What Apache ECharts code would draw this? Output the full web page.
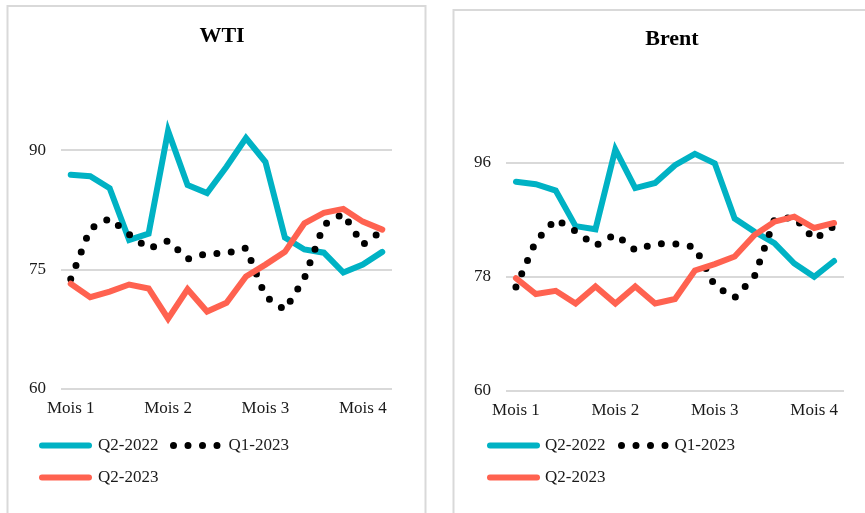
<!DOCTYPE html>
<html>
<head>
<meta charset="utf-8">
<script src="https://cdn.jsdelivr.net/npm/echarts@6/dist/echarts.min.js"></script>
<style>
  html, body { margin: 0; padding: 0; background: #fff; }
  #chart { width: 865px; height: 513px; }
</style>
</head>
<body>
<div id="chart"></div>
<script>
// Weekly observations over four months (17 points per series)
const weeks = ['S1','S2','S3','S4','S5','S6','S7','S8','S9','S10','S11','S12','S13','S14','S15','S16','S17'];
const monthLabels = ['Mois 1', 'Mois 2', 'Mois 3', 'Mois 4'];
const seriesNames = ['Q2-2022', 'Q1-2023', 'Q2-2023'];

// WTI ($/baril)
const wtiTicks = [60, 75, 90];
const wtiQ2_2022 = [86.9, 86.7, 85.2, 78.7, 79.5, 92.4, 85.6, 84.6, 87.9, 91.5, 88.5, 79.0, 77.5, 77.1, 74.6, 75.6, 77.2];
const wtiQ1_2023 = [73.8, 80.1, 81.4, 79.4, 77.6, 78.6, 76.3, 77.0, 77.0, 77.7, 71.6, 69.9, 73.9, 80.6, 82.0, 78.1, 79.9];
const wtiQ2_2023 = [73.2, 71.5, 72.2, 73.1, 72.6, 68.8, 72.5, 69.7, 70.8, 74.1, 75.6, 77.2, 80.8, 82.1, 82.6, 81.0, 80.0];

// Brent ($/baril)
const brentTicks = [60, 78, 96];
const brentQ2_2022 = [93.0, 92.6, 91.6, 86.0, 85.5, 98.1, 92.0, 92.8, 95.6, 97.4, 95.9, 87.2, 85.1, 83.3, 80.1, 78.0, 80.5];
const brentQ1_2023 = [76.4, 83.6, 87.1, 85.2, 82.9, 84.7, 82.2, 83.2, 83.2, 82.7, 76.6, 74.7, 78.1, 87.0, 87.4, 83.9, 86.0];
const brentQ2_2023 = [77.8, 75.3, 75.8, 73.8, 76.5, 73.8, 76.5, 73.8, 74.5, 79.0, 80.0, 81.2, 84.6, 86.7, 87.5, 85.7, 86.5];

const FONT = "'Liberation Serif', 'Times New Roman', serif";
const TEAL = '#00B2C4';
const CORAL = '#FF6250';
const GRID_GRAY = '#D9D9D9';
const TEXT = '#1a1a1a';

const solidStyle = (color) => ({ color: color, width: 6, cap: 'round', join: 'miter' });
const dotStyle = { color: '#000', width: 7, type: [0, 14.5], cap: 'round', join: 'round' };

function yAxisFor(gridIndex, ticks, max) {
  const step = ticks[1] - ticks[0];
  return {
    type: 'value',
    gridIndex: gridIndex,
    min: ticks[0],
    max: max,
    interval: step,
    axisLine: { show: false },
    axisTick: { show: false },
    axisLabel: {
      showMaxLabel: false,
      margin: 15,
      color: TEXT,
      fontFamily: FONT,
      fontSize: 17
    },
    splitLine: {
      lineStyle: {
        // the last tick is the axis ceiling, left without a gridline
        color: [GRID_GRAY, GRID_GRAY, GRID_GRAY, 'rgba(0,0,0,0)'],
        width: 2
      }
    }
  };
}

function xAxisFor(gridIndex) {
  return {
    type: 'category',
    gridIndex: gridIndex,
    data: weeks,
    boundaryGap: true,
    axisLine: { show: false },
    axisTick: { show: false },
    axisLabel: {
      interval: 4,
      margin: 11,
      color: TEXT,
      fontFamily: FONT,
      fontSize: 17,
      formatter: function (value, index) { return monthLabels[index / 5]; }
    },
    splitLine: { show: false }
  };
}

function seriesFor(gridIndex, q22, q123, q223) {
  const base = {
    type: 'line',
    xAxisIndex: gridIndex,
    yAxisIndex: gridIndex,
    symbol: 'none',
    showSymbol: false,
    animation: false,
    silent: true
  };
  return [
    Object.assign({}, base, {
      name: seriesNames[0], data: q22, z: 2,
      lineStyle: solidStyle(TEAL), itemStyle: { color: TEAL }
    }),
    Object.assign({}, base, {
      name: seriesNames[1], data: q123, z: 3,
      lineStyle: dotStyle, itemStyle: { color: '#000' }
    }),
    Object.assign({}, base, {
      name: seriesNames[2], data: q223, z: 4,
      lineStyle: solidStyle(CORAL), itemStyle: { color: CORAL }
    })
  ];
}

function legendItem(name, left, top, itemWidth, padLeft, lineStyle) {
  return {
    data: [name],
    left: left,
    top: top,
    padding: 0,
    itemWidth: itemWidth,
    itemHeight: 14,
    selectedMode: false,
    itemStyle: { opacity: 0 },
    lineStyle: lineStyle,
    textStyle: {
      color: TEXT,
      fontFamily: FONT,
      fontSize: 17,
      padding: [0, 0, 0, padLeft]
    }
  };
}

const option = {
  backgroundColor: '#fff',
  animation: false,
  title: [
    {
      text: 'WTI', left: 217, top: 20, textAlign: 'center',
      textStyle: { fontFamily: FONT, fontSize: 22, fontWeight: 'bold', color: '#000' }
    },
    {
      text: 'Brent', left: 667, top: 23, textAlign: 'center',
      textStyle: { fontFamily: FONT, fontSize: 22, fontWeight: 'bold', color: '#000' }
    }
  ],
  graphic: [
    {
      type: 'rect', z: -10, silent: true,
      shape: { x: 7.5, y: 6, width: 418, height: 530 },
      style: { fill: '#fff', stroke: GRID_GRAY, lineWidth: 2 }
    },
    {
      type: 'rect', z: -10, silent: true,
      shape: { x: 453.5, y: 10, width: 430, height: 530 },
      style: { fill: '#fff', stroke: GRID_GRAY, lineWidth: 2 }
    }
  ],
  grid: [
    { left: 61, top: 70.5, width: 331, height: 318.2 },
    { left: 506, top: 86.6, width: 338, height: 304.4 }
  ],
  xAxis: [xAxisFor(0), xAxisFor(1)],
  yAxis: [yAxisFor(0, wtiTicks, 100), yAxisFor(1, brentTicks, 108)],
  legend: [
    legendItem(seriesNames[0], 39, 437, 47, 4, solidStyle(TEAL)),
    legendItem(seriesNames[1], 170, 437, 50, 0, dotStyle),
    legendItem(seriesNames[2], 39, 469, 47, 4, solidStyle(CORAL)),
    legendItem(seriesNames[0], 487, 437, 47, 3, solidStyle(TEAL)),
    legendItem(seriesNames[1], 618, 437, 48, 0, dotStyle),
    legendItem(seriesNames[2], 487, 469, 47, 3, solidStyle(CORAL))
  ],
  series: [].concat(
    seriesFor(0, wtiQ2_2022, wtiQ1_2023, wtiQ2_2023),
    seriesFor(1, brentQ2_2022, brentQ1_2023, brentQ2_2023)
  )
};

const chart = echarts.init(document.getElementById('chart'), null, { renderer: 'canvas' });
chart.setOption(option);
</script>
</body>
</html>
